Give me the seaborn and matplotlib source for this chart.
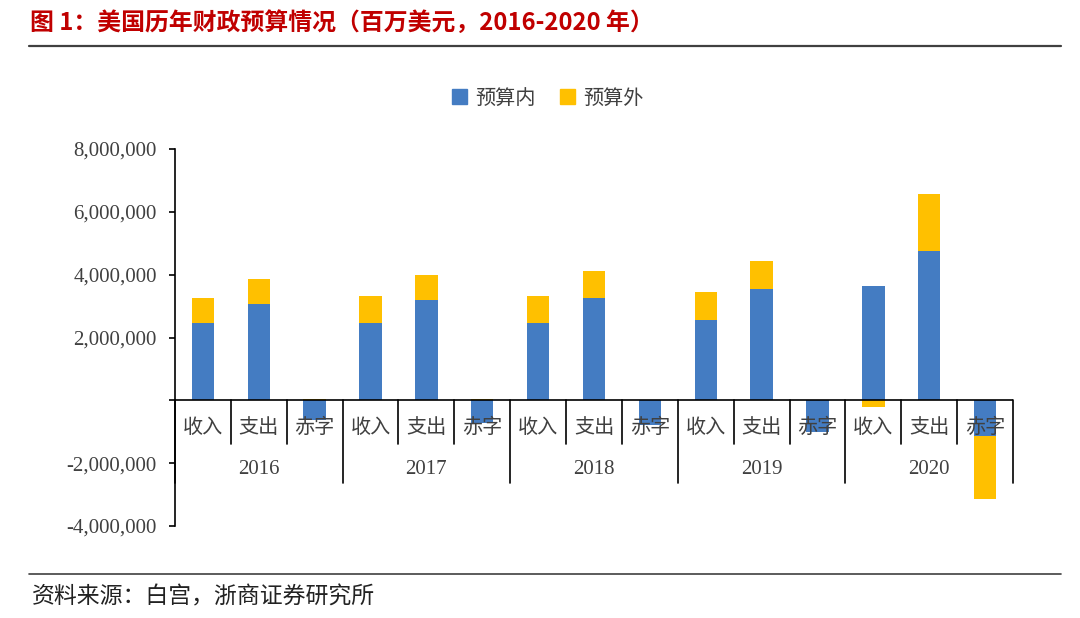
import numpy as np
import pandas as pd
import seaborn as sns
import matplotlib.pyplot as plt
from matplotlib.ticker import FuncFormatter
from matplotlib.lines import Line2D
from matplotlib.patches import Patch

# Data (millions of USD)
years = ["2016", "2017", "2018", "2019", "2020"]
items = ["收入", "支出", "赤字"]

on_budget = [
    2450000, 3075000, -620000,
    2465000, 3180000, -715000,
    2475000, 3255000, -785000,
    2545000, 3545000, -1000000,
    3650000, 4750000, -1120000,
]
off_budget = [
    815000, 780000, 35000,
    850000, 805000, 50000,
    855000, 850000, 6000,
    915000, 905000, 10000,
    -215000, 1810000, -2010000,
]

series_names = ["预算内", "预算外"]
blue = "#447CC2"
gold = "#FFC000"
text_grey = "#404040"

sns.set_theme(style="white")
plt.rcParams["font.family"] = ["Noto Sans CJK SC", "DejaVu Sans"]

df = pd.DataFrame({
    "pos": np.arange(len(on_budget)),
    "year": np.repeat(years, len(items)),
    "item": items * len(years),
    "on": on_budget,
    "off": off_budget,
})
# Excel-style stacking: positive and negative parts stack separately
same_sign = np.sign(df["on"]) == np.sign(df["off"])
df["off_bottom"] = np.where(same_sign, df["on"], 0)

fig = plt.figure(figsize=(10.8, 6.18), dpi=100)
ax = fig.add_axes([175 / 1080, 1 - 526 / 618, (1013 - 175) / 1080, 377 / 618])

sns.barplot(data=df, x="pos", y="on", native_scale=True, width=0.4,
            color=blue, saturation=1, edgecolor="none", ax=ax, zorder=2)
ax.bar(df["pos"], df["off"], bottom=df["off_bottom"], width=0.4,
       color=gold, edgecolor="none", zorder=2)

ax.set_xlim(-0.5, len(on_budget) - 0.5)
ax.set_ylim(-4000000, 8000000)
ax.set_yticks(np.arange(-4000000, 8000001, 2000000))
ax.yaxis.set_major_formatter(
    FuncFormatter(lambda v, p: "" if v == 0 else f"{int(v):,}"))
ax.set_xticks([])
ax.set_xlabel("")
ax.set_ylabel("")

for side in ["top", "right", "bottom"]:
    ax.spines[side].set_visible(False)
ax.spines["left"].set_color("black")
ax.spines["left"].set_linewidth(1.2)
ax.tick_params(axis="y", direction="out", length=4, width=1.2,
               color="black", left=True, pad=9, labelcolor=text_grey)
for lab in ax.get_yticklabels():
    lab.set_family("Liberation Serif")
    lab.set_fontsize(15)

ax.axhline(0, color="black", lw=1.2, zorder=3)

# multi-level category axis
xt = ax.get_xaxis_transform()
for i, it in enumerate(df["item"]):
    ax.text(i, 0.262, it, transform=xt, ha="center", va="center",
            fontsize=14.5, color=text_grey, zorder=4)
for k, yr in enumerate(years):
    ax.text(k * 3 + 1, 0.151, yr, transform=xt, ha="center", va="center",
            fontsize=15, color=text_grey, family="Liberation Serif")
    for j in (0.5, 1.5):
        ax.plot([k * 3 + j] * 2, [1 / 3, 0.2175], transform=xt,
                color="black", lw=1.2, clip_on=False, zorder=3)
for k in range(len(years) + 1):
    ax.plot([k * 3 - 0.5] * 2, [1 / 3, 0.114], transform=xt,
            color="black", lw=1.2, clip_on=False, zorder=3)

handles = [Patch(color=blue), Patch(color=gold)]
fig.legend(handles, series_names, loc="center",
           bbox_to_anchor=(548 / 1080, 1 - 98 / 618), ncol=2, frameon=False,
           fontsize=14.5, handlelength=0.75, handleheight=0.75,
           handletextpad=0.4, columnspacing=1.2, labelcolor=text_grey)

fig.text(30 / 1080, 1 - 23 / 618,
         "图 1：美国历年财政预算情况（百万美元，2016-2020 年）",
         ha="left", va="center", fontsize=17.2, fontweight="bold",
         color="#C00000")
fig.add_artist(Line2D([29 / 1080, 1061 / 1080], [1 - 45.5 / 618] * 2,
                      color=text_grey, lw=1.6))
fig.add_artist(Line2D([29 / 1080, 1061 / 1080], [1 - 573.5 / 618] * 2,
                      color=text_grey, lw=1.2))
fig.text(32 / 1080, 1 - 597 / 618, "资料来源：白宫，浙商证券研究所",
         ha="left", va="center", fontsize=16.5, color="#222222")

fig.savefig("out.png", dpi=100)
